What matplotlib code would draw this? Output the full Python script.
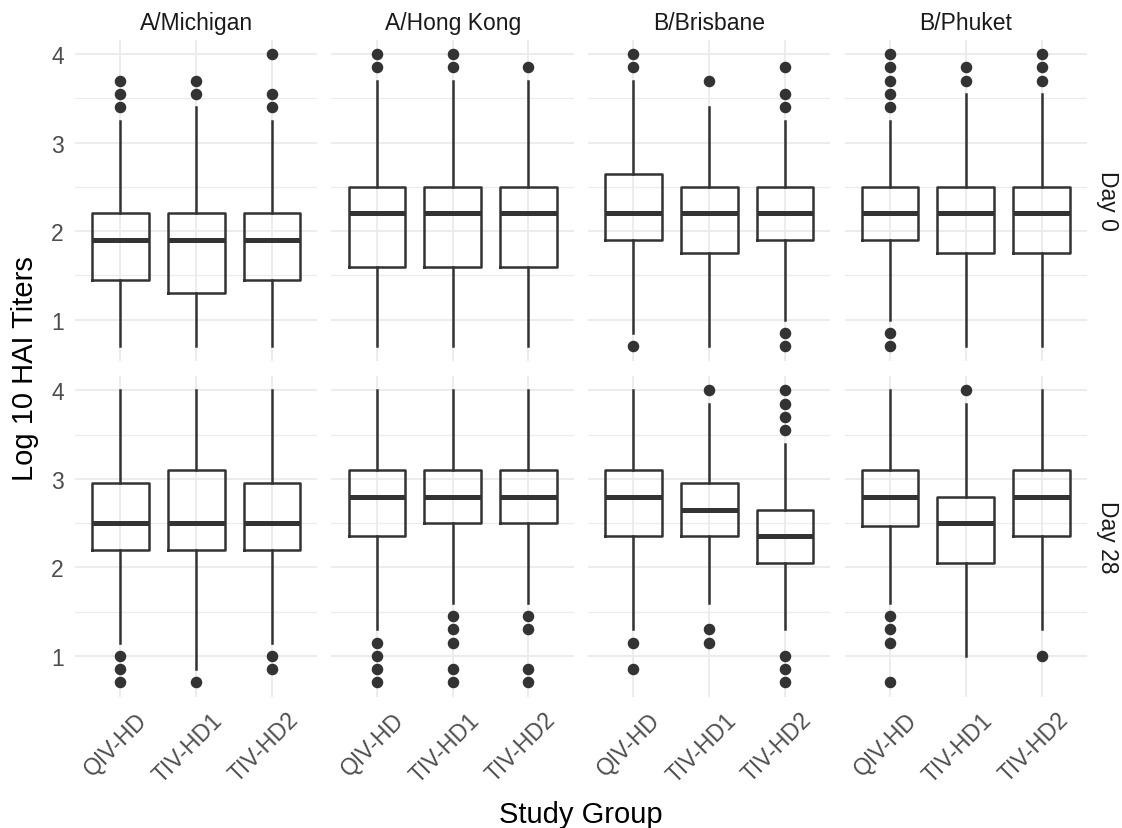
import matplotlib
matplotlib.use("Agg")
import matplotlib.pyplot as plt
import matplotlib.transforms as mtransforms

plt.rcParams["font.family"] = ["Liberation Sans", "DejaVu Sans"]

# dati (log10 titoli HAI)
strains = ["A/Michigan", "A/Hong Kong", "B/Brisbane", "B/Phuket"]
days = ["Day 0", "Day 28"]
groups = ["QIV-HD", "TIV-HD1", "TIV-HD2"]

# Day 0: righe = ceppo, colonne = gruppo
day0_whislo = [[0.70, 0.70, 0.70], [0.70, 0.70, 0.70], [0.85, 0.70, 1.00], [1.00, 0.70, 0.70]]
day0_q1 = [[1.45, 1.30, 1.45], [1.60, 1.60, 1.60], [1.90, 1.75, 1.90], [1.90, 1.75, 1.75]]
day0_med = [[1.90, 1.90, 1.90], [2.20, 2.20, 2.20], [2.20, 2.20, 2.20], [2.20, 2.20, 2.20]]
day0_q3 = [[2.20, 2.20, 2.20], [2.50, 2.50, 2.50], [2.65, 2.50, 2.50], [2.50, 2.50, 2.50]]
day0_whishi = [[3.25, 3.40, 3.25], [3.70, 3.70, 3.70], [3.70, 3.40, 3.25], [3.25, 3.55, 3.55]]
day0_fliers = [
    [[3.40, 3.55, 3.70], [3.55, 3.70], [3.40, 3.55, 4.00]],
    [[3.85, 4.00], [3.85, 4.00], [3.85]],
    [[0.70, 3.85, 4.00], [3.70], [0.70, 0.85, 3.40, 3.55, 3.85]],
    [[0.70, 0.85, 3.40, 3.55, 3.70, 3.85, 4.00], [3.70, 3.85], [3.70, 3.85, 4.00]],
]

# Day 28
day28_whislo = [[1.15, 0.85, 1.15], [1.30, 1.60, 1.60], [1.30, 1.60, 1.30], [1.60, 1.00, 1.30]]
day28_q1 = [[2.20, 2.20, 2.20], [2.35, 2.50, 2.50], [2.35, 2.35, 2.05], [2.47, 2.05, 2.35]]
day28_med = [[2.50, 2.50, 2.50], [2.80, 2.80, 2.80], [2.80, 2.65, 2.35], [2.80, 2.50, 2.80]]
day28_q3 = [[2.95, 3.10, 2.95], [3.10, 3.10, 3.10], [3.10, 2.95, 2.65], [3.10, 2.80, 3.10]]
day28_whishi = [[4.00, 4.00, 4.00], [4.00, 4.00, 4.00], [4.00, 3.85, 3.40], [4.00, 3.85, 4.00]]
day28_fliers = [
    [[0.70, 0.85, 1.00], [0.70], [0.85, 1.00]],
    [[0.70, 0.85, 1.00, 1.15], [0.70, 0.85, 1.15, 1.30, 1.45], [0.70, 0.85, 1.30, 1.45]],
    [[0.85, 1.15], [1.15, 1.30, 4.00], [0.70, 0.85, 1.00, 3.55, 3.70, 3.85, 4.00]],
    [[0.70, 1.15, 1.30, 1.45], [4.00], [1.00]],
]

data = {
    "Day 0": (day0_whislo, day0_q1, day0_med, day0_q3, day0_whishi, day0_fliers),
    "Day 28": (day28_whislo, day28_q1, day28_med, day28_q3, day28_whishi, day28_fliers),
}

line_col = "#333333"
grid_col = "#EBEBEB"

fig, axes = plt.subplots(2, 4, figsize=(11.22, 8.29), dpi=100, sharex=True, sharey=True)
fig.subplots_adjust(left=0.0668, right=0.9688, top=0.951, bottom=0.158,
                    wspace=0.058, hspace=0.047)

for r, day in enumerate(days):
    whislo, q1, med, q3, whishi, fliers = data[day]
    for c, strain in enumerate(strains):
        ax = axes[r, c]
        stats = []
        for g in range(len(groups)):
            stats.append({
                "whislo": whislo[c][g], "q1": q1[c][g], "med": med[c][g],
                "q3": q3[c][g], "whishi": whishi[c][g], "fliers": fliers[c][g],
            })
        ax.bxp(stats, positions=[1, 2, 3], widths=0.75, showcaps=False,
               boxprops=dict(color=line_col, linewidth=1.8),
               whiskerprops=dict(color=line_col, linewidth=1.8),
               medianprops=dict(color=line_col, linewidth=3.6, solid_capstyle="butt"),
               flierprops=dict(marker="o", markerfacecolor=line_col,
                               markeredgecolor=line_col, markersize=7.3))

        ax.set_xlim(0.4, 3.6)
        ax.set_ylim(0.535, 4.165)
        ax.set_yticks([1, 2, 3, 4])
        ax.set_yticks([1.5, 2.5, 3.5], minor=True)
        ax.set_xticks([1, 2, 3])
        ax.set_xticklabels(groups)
        ax.grid(True, which="major", color=grid_col, linewidth=1.3)
        ax.grid(True, which="minor", axis="y", color=grid_col, linewidth=0.8)
        ax.set_axisbelow(True)
        for s in ax.spines.values():
            s.set_visible(False)
        ax.tick_params(which="both", length=0, labelsize=16.5, labelcolor="#4D4D4D")
        ax.tick_params(axis="y", pad=8)

        if r == 0:
            ax.set_title(strain, fontsize=16.5, color="#1A1A1A", pad=8)
        if c == 3:
            ax.text(1.085, 0.5, day, transform=ax.transAxes, rotation=-90,
                    ha="center", va="center", fontsize=16.5, color="#1A1A1A")

# etichette asse x ruotate
offset = mtransforms.ScaledTranslation(15 / 100, -6 / 100, fig.dpi_scale_trans)
for ax in axes[1]:
    for lab in ax.get_xticklabels():
        lab.set_rotation(45)
        lab.set_ha("right")
        lab.set_va("top")
        lab.set_rotation_mode("anchor")
        lab.set_transform(lab.get_transform() + offset)

fig.text(25 / 1122, 0.555, "Log 10 HAI Titers", rotation=90, ha="center",
         va="center", fontsize=21)
fig.text(0.518, 1 - 815 / 829, "Study Group", ha="center", va="center", fontsize=21)

fig.savefig("out.png", dpi=100)
